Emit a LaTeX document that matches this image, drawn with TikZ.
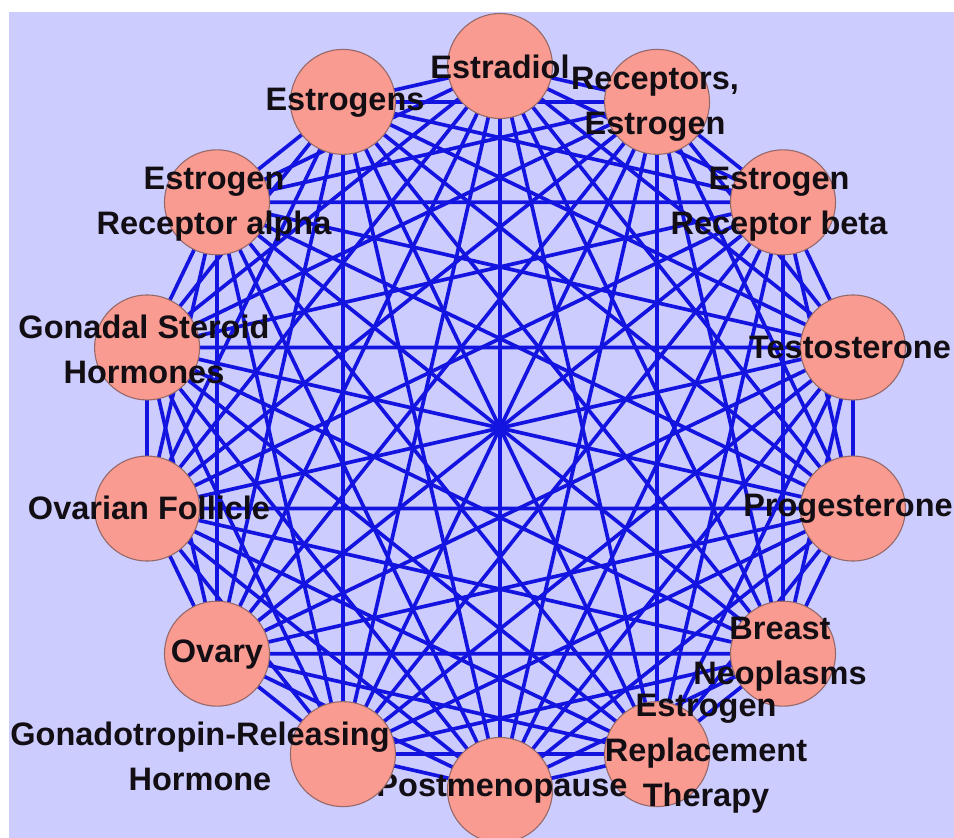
\documentclass[tikz,border=0pt]{standalone}
\usepackage{fontspec}
\setmainfont{Liberation Sans}
\definecolor{bgc}{RGB}{204,204,255}
\definecolor{edgec}{RGB}{20,20,225}
\definecolor{nodefill}{RGB}{250,155,145}
\definecolor{nodeline}{RGB}{150,105,105}
\definecolor{txt}{RGB}{18,14,20}
\tikzset{
  edge/.style={draw=edgec, line width=3.7pt},
  vert/.style={circle, fill=nodefill, draw=nodeline, line width=1.1pt, minimum size=105pt, inner sep=0pt},
  lbl/.style={text=txt, font=\fontsize{32.5}{45}\selectfont\bfseries, align=center, inner sep=0pt}
}
\begin{document}
\begin{tikzpicture}[x=1pt,y=-1pt]
\useasboundingbox (0,0) rectangle (954,838);
\fill[white] (0,0) rectangle (954,838);
\fill[bgc] (9,12) rectangle (954,838);
\foreach \k in {1,...,14}{
  \coordinate (p\k) at ({500+362*cos(90-(\k-1)*360/14)},{428-362*sin(90-(\k-1)*360/14)});
}
\foreach \i in {1,...,13}{
  \pgfmathtruncatemacro{\s}{\i+1}
  \foreach \j in {\s,...,14}{
    \draw[edge] (p\i) -- (p\j);
  }
}
\node[vert] (c1) at (p1) {};
\node[lbl] (l1) at (500,67) {Estradiol};
\node[vert] (c2) at (p2) {};
\node[lbl] (l2) at (655,104) {Receptors,\\Estrogen};
\node[vert] (c3) at (p3) {};
\node[lbl] (l3) at (779,204) {Estrogen\\Receptor beta};
\node[vert] (c4) at (p4) {};
\node[lbl] (l4) at (850,347) {Testosterone};
\node[vert] (c5) at (p5) {};
\node[lbl] (l5) at (848,509) {Progesterone};
\node[vert] (c6) at (p6) {};
\node[lbl] (l6) at (780,654) {Breast\\Neoplasms};
\node[vert] (c7) at (p7) {};
\node[lbl] (l7) at (706,754) {Estrogen\\Replacement\\Therapy};
\node[vert] (c8) at (p8) {};
\node[lbl] (l8) at (502,789) {Postmenopause};
\node[vert] (c9) at (p9) {};
\node[lbl] (l9) at (200,756) {Gonadotropin-Releasing\\Hormone};
\node[vert] (c10) at (p10) {};
\node[lbl] (l10) at (217,655) {Ovary};
\node[vert] (c11) at (p11) {};
\node[lbl] (l11) at (149,508) {Ovarian Follicle};
\node[vert] (c12) at (p12) {};
\node[lbl] (l12) at (144,349) {Gonadal Steroid\\Hormones};
\node[vert] (c13) at (p13) {};
\node[lbl] (l13) at (214,204) {Estrogen\\Receptor alpha};
\node[vert] (c14) at (p14) {};
\node[lbl] (l14) at (345,103) {Estrogens};
\end{tikzpicture}
\end{document}
